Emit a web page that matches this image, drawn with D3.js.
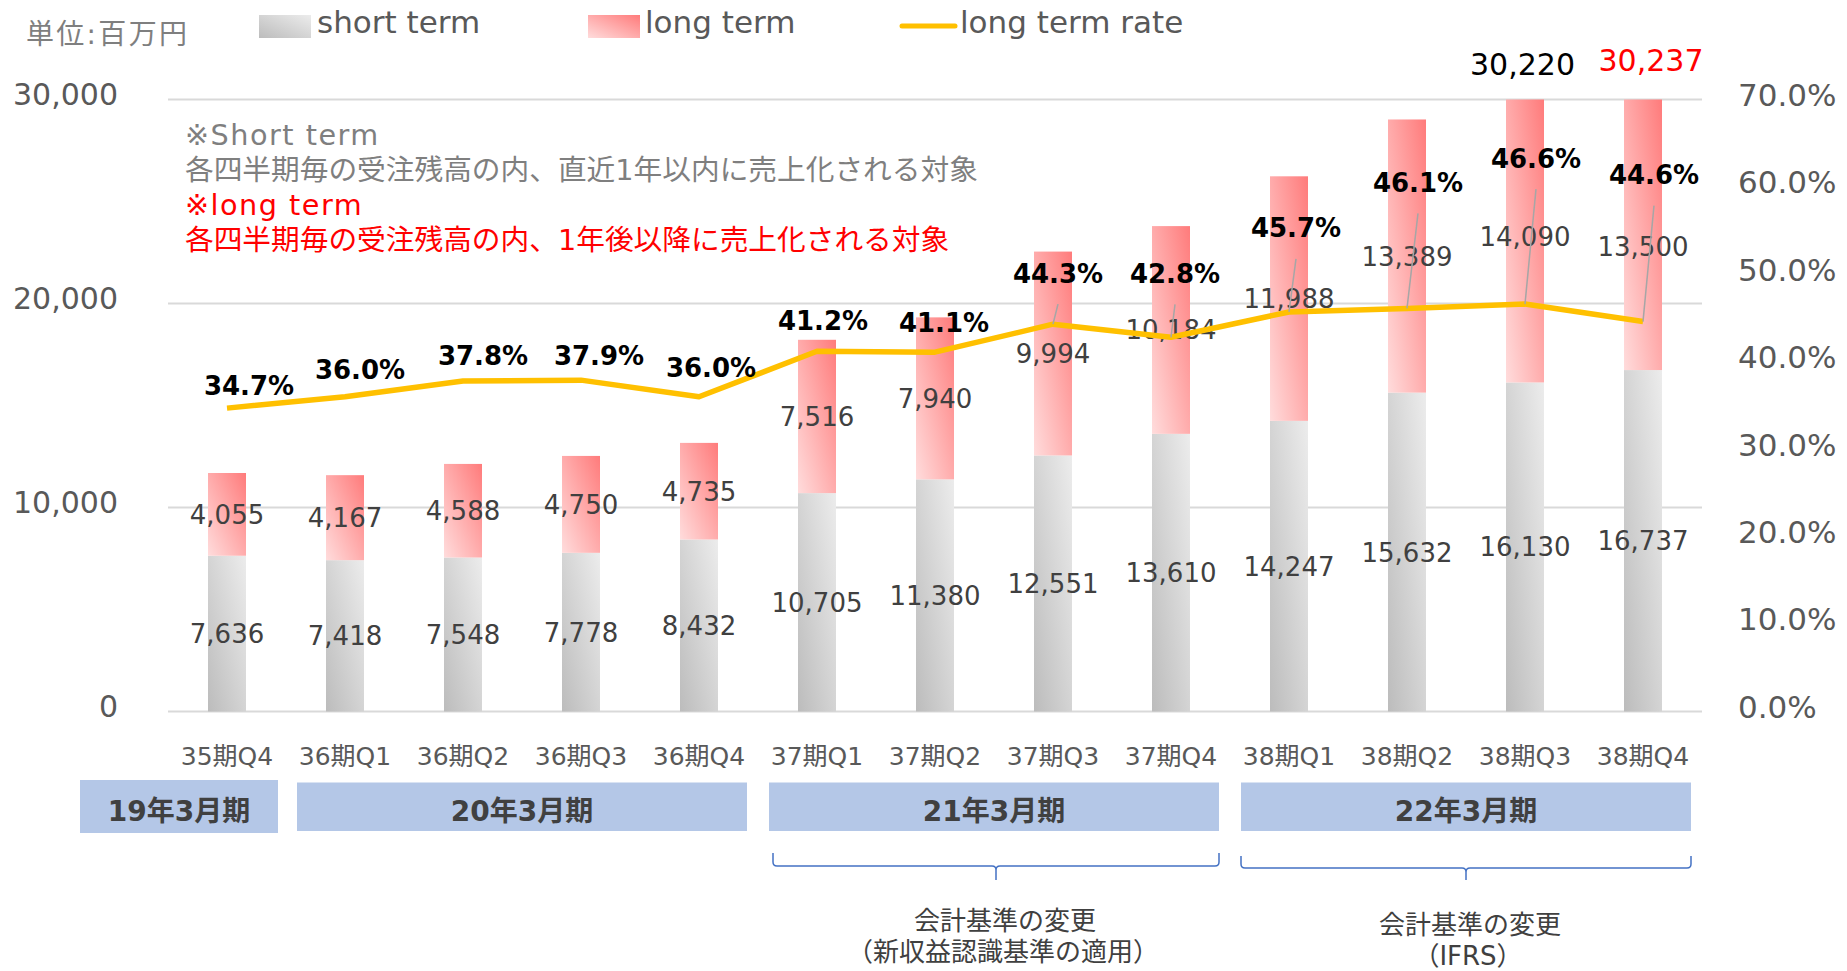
<!DOCTYPE html>
<html>
<head>
<meta charset="utf-8">
<script src="https://cdn.jsdelivr.net/npm/d3@7"></script>
<style>
  html, body { margin: 0; padding: 0; background: #ffffff; }
  svg { display: block; }
  text { font-family: "DejaVu Sans", "Noto Sans CJK JP", sans-serif; }
</style>
</head>
<body>
<svg id="chart" width="1847" height="971"></svg>
<script>
// ---------------- data ----------------
const categories = ["35期Q4","36期Q1","36期Q2","36期Q3","36期Q4","37期Q1","37期Q2","37期Q3","37期Q4","38期Q1","38期Q2","38期Q3","38期Q4"];
const shortTerm  = [7636, 7418, 7548, 7778, 8432, 10705, 11380, 12551, 13610, 14247, 15632, 16130, 16737];
const longTerm   = [4055, 4167, 4588, 4750, 4735, 7516, 7940, 9994, 10184, 11988, 13389, 14090, 13500];
const longTermRate = [34.7, 36.0, 37.8, 37.9, 36.0, 41.2, 41.1, 44.3, 42.8, 45.7, 46.1, 46.6, 44.6];
const leftTicks  = [0, 10000, 20000, 30000];
const rightTicks = [0, 10, 20, 30, 40, 50, 60, 70];
const periodLabels = ["19年3月期", "20年3月期", "21年3月期", "22年3月期"];
const periodFirst  = ["35期Q4", "36期Q1", "37期Q1", "38期Q1"];
const periodLast   = ["35期Q4", "36期Q4", "37期Q4", "38期Q4"];
const braceFirst   = ["37期Q1", "38期Q1"];
const braceLast    = ["37期Q4", "38期Q4"];
const braceLine1   = ["会計基準の変更", "会計基準の変更"];
const braceLine2   = ["（新収益認識基準の適用）", "（IFRS）"];
const legendLabels = ["short term", "long term", "long term rate"];
const unitLabel = "単位:百万円";
const noteLines = ["※Short term", "各四半期毎の受注残高の内、直近1年以内に売上化される対象", "※long term", "各四半期毎の受注残高の内、1年後以降に売上化される対象"];

// ---------------- layout ----------------
const svg = d3.select("#chart");
const X0 = 168, X1 = 1702, Y0 = 711.5, Y1 = 99.5;
const x = d3.scaleBand().domain(categories).range([X0, X1]).padding(0);
const yL = d3.scaleLinear().domain([0, 30000]).range([Y0, Y1]);
const yR = d3.scaleLinear().domain([0, 70]).range([Y0, Y1]);
const barW = x.bandwidth() * 0.322;
const cx = c => x(c) + x.bandwidth() / 2;
const fmt = d3.format(",");

const data = categories.map((c, i) => ({
  c, i, s: shortTerm[i], l: longTerm[i], total: shortTerm[i] + longTerm[i], r: longTermRate[i]
}));

// gradients
const defs = svg.append("defs");
function grad(id, c0, c1) {
  const g = defs.append("linearGradient").attr("id", id)
    .attr("x1", 0).attr("y1", 1).attr("x2", 1).attr("y2", 0);
  g.append("stop").attr("offset", "0%").attr("stop-color", c0);
  g.append("stop").attr("offset", "100%").attr("stop-color", c1);
}
grad("gShort", "#bcbcbc", "#ececec");
grad("gLong", "#ffdcdc", "#ff7b7b");

// gridlines
svg.append("g").selectAll("line").data(leftTicks).join("line")
  .attr("x1", X0).attr("x2", X1)
  .attr("y1", d => yL(d)).attr("y2", d => yL(d))
  .attr("stroke", "#d9d9d9").attr("stroke-width", 2);

// left axis
const axL = svg.append("g").attr("transform", `translate(${X0},0)`)
  .call(d3.axisLeft(yL).tickValues(leftTicks).tickFormat(fmt).tickSize(0).tickPadding(50));
axL.select(".domain").remove();
axL.selectAll("text").attr("y", -4.5).attr("fill", "#595959")
  .style("font-size", "30px").style("font-family", '"DejaVu Sans", sans-serif');

// right axis
const axR = svg.append("g").attr("transform", `translate(${X1},0)`)
  .call(d3.axisRight(yR).tickValues(rightTicks).tickFormat(d => d.toFixed(1) + "%").tickSize(0).tickPadding(36));
axR.select(".domain").remove();
axR.selectAll("text").attr("y", -4).attr("fill", "#595959")
  .style("font-size", "31px").style("font-family", '"DejaVu Sans", sans-serif');

// bottom axis
const axB = svg.append("g").attr("transform", `translate(0,${Y0})`)
  .call(d3.axisBottom(x).tickSize(0).tickPadding(36));
axB.select(".domain").remove();
axB.selectAll("text").attr("fill", "#595959").style("font-size", "25px")
  .style("font-family", '"DejaVu Sans", "Noto Sans CJK JP", sans-serif');

// bars
const bars = svg.append("g");
bars.selectAll("rect.s").data(data).join("rect").attr("class", "s")
  .attr("x", d => cx(d.c) - barW / 2).attr("width", barW)
  .attr("y", d => yL(d.s)).attr("height", d => yL(0) - yL(d.s))
  .attr("fill", "url(#gShort)");
bars.selectAll("rect.l").data(data).join("rect").attr("class", "l")
  .attr("x", d => cx(d.c) - barW / 2).attr("width", barW)
  .attr("y", d => yL(Math.min(d.total, 30000)))
  .attr("height", d => yL(d.s) - yL(Math.min(d.total, 30000)))
  .attr("fill", "url(#gLong)");

// segment labels
const lblFont = "26px";
svg.append("g").selectAll("text").data(data).join("text")
  .attr("x", d => cx(d.c)).attr("y", d => (yL(0) + yL(d.s)) / 2 + 9.5)
  .attr("text-anchor", "middle").attr("fill", "#404040").style("font-size", lblFont)
  .text(d => fmt(d.s));
const longNudge = {11: -4, 12: 12};
svg.append("g").selectAll("text").data(data).join("text")
  .attr("x", d => cx(d.c))
  .attr("y", d => (yL(d.s) + yL(Math.min(d.total, 30000))) / 2 + 9.5 + (longNudge[d.i] || 0))
  .attr("text-anchor", "middle").attr("fill", "#404040").style("font-size", lblFont)
  .text(d => fmt(d.l));

// totals above clipped bars
const over = data.filter(d => d.total > 30000);
const overNudge = [[-2.5, -24.5], [8, -28.5]];
const overColor = ["#000000", "#ff0000"];
svg.append("g").selectAll("text").data(over).join("text")
  .attr("x", (d, k) => cx(d.c) + overNudge[k][0])
  .attr("y", (d, k) => yL(30000) + overNudge[k][1])
  .attr("text-anchor", "middle").attr("fill", (d, k) => overColor[k])
  .style("font-size", "30px").text(d => fmt(d.total));

// rate line
const line = d3.line().x(d => cx(d.c)).y(d => yR(d.r));
svg.append("path").datum(data).attr("d", line)
  .attr("fill", "none").attr("stroke", "#ffc000").attr("stroke-width", 5.5)
  .attr("stroke-linejoin", "round");

// rate labels with leader lines
const rateNudge = [[22,-23],[15,-27],[20,-26],[18,-25],[12,-29],[6,-31],[9,-30],[5,-51],[4,-64],[7,-84],[11,-126],[11,-146],[11,-147]];
svg.append("g").selectAll("line").data(data.filter(d => rateNudge[d.i][1] < -40)).join("line")
  .attr("x1", d => cx(d.c) + rateNudge[d.i][0]).attr("y1", d => yR(d.r) + rateNudge[d.i][1] + 31)
  .attr("x2", d => cx(d.c)).attr("y2", d => yR(d.r))
  .attr("stroke", "#a6a6a6").attr("stroke-width", 1.5);
svg.append("g").selectAll("text").data(data).join("text")
  .attr("x", d => cx(d.c) + rateNudge[d.i][0])
  .attr("y", d => yR(d.r) + rateNudge[d.i][1] + 9.5)
  .attr("text-anchor", "middle").attr("fill", "#000000")
  .style("font-size", "26px").style("font-weight", "bold")
  .text(d => d.r.toFixed(1) + "%");

// legend
svg.append("text").attr("x", 26).attr("y", 44).attr("fill", "#7f7f7f")
  .style("font-size", "28px").style("letter-spacing", "2.3px").text(unitLabel);
svg.append("rect").attr("x", 259).attr("y", 15).attr("width", 52).attr("height", 23).attr("fill", "url(#gShort)");
svg.append("rect").attr("x", 588).attr("y", 15).attr("width", 52).attr("height", 23).attr("fill", "url(#gLong)");
svg.append("line").attr("x1", 902).attr("x2", 955).attr("y1", 26).attr("y2", 26)
  .attr("stroke", "#ffc000").attr("stroke-width", 5).attr("stroke-linecap", "round");
const legX = [317, 645, 960];
svg.append("g").selectAll("text").data(legendLabels).join("text")
  .attr("x", (d, k) => legX[k]).attr("y", 33).attr("fill", "#595959")
  .style("font-size", "31px").text(d => d);

// note block
const noteColor = ["#7f7f7f", "#7f7f7f", "#ff0000", "#ff0000"];
svg.append("g").selectAll("text").data(noteLines).join("text")
  .attr("x", 185).attr("y", (d, k) => 145 + k * 35)
  .attr("fill", (d, k) => noteColor[k])
  .style("font-size", "28.7px")
  .style("letter-spacing", (d, k) => (k % 2 === 0 ? "1.5px" : "0px"))
  .text(d => d);

// period boxes
const inset = 11;
const pg = svg.append("g");
periodLabels.forEach((lab, k) => {
  let bx0 = x(periodFirst[k]) + inset;
  let bx1 = x(periodLast[k]) + x.bandwidth() - inset;
  if (k === 0) { bx0 = x(periodFirst[k]) - 88; bx1 += 3; }
  const by0 = k === 0 ? 780 : 782.5, by1 = k === 0 ? 833 : 831;
  pg.append("rect").attr("x", bx0).attr("y", by0).attr("width", bx1 - bx0).attr("height", by1 - by0)
    .attr("fill", "#b4c7e7");
  pg.append("text").attr("x", (bx0 + bx1) / 2).attr("y", 821).attr("text-anchor", "middle")
    .attr("fill", "#404040").style("font-size", "28px").style("font-weight", "bold").text(lab);
});

// braces
const bg = svg.append("g");
const braceTop = [853, 856], braceH = [866, 868], braceBot = 880;
const braceInsetL = [15, 11];
const line1Y = [930, 934], line2Y = [961, 965];
const line1Dx = [9, 4], line2Dx = [7, 2];
braceFirst.forEach((f, k) => {
  const a = x(f) + braceInsetL[k], b = x(braceLast[k]) + x.bandwidth() - 11;
  const m = (a + b) / 2, h = braceH[k], t = braceTop[k], r = 4;
  const p = d3.path();
  p.moveTo(a, t); p.lineTo(a, h - r); p.quadraticCurveTo(a, h, a + r, h);
  p.lineTo(m - r, h); p.quadraticCurveTo(m, h, m, h + r); p.lineTo(m, braceBot);
  p.moveTo(m, h + r); p.quadraticCurveTo(m, h, m + r, h);
  p.lineTo(b - r, h); p.quadraticCurveTo(b, h, b, h - r); p.lineTo(b, t);
  bg.append("path").attr("d", p.toString()).attr("fill", "none")
    .attr("stroke", "#4472c4").attr("stroke-width", 1.5);
  bg.append("text").attr("x", m + line1Dx[k]).attr("y", line1Y[k]).attr("text-anchor", "middle")
    .attr("fill", "#404040").style("font-size", "26px").text(braceLine1[k]);
  bg.append("text").attr("x", m + line2Dx[k]).attr("y", line2Y[k]).attr("text-anchor", "middle")
    .attr("fill", "#404040").style("font-size", "26px").text(braceLine2[k]);
});
</script>
</body>
</html>
